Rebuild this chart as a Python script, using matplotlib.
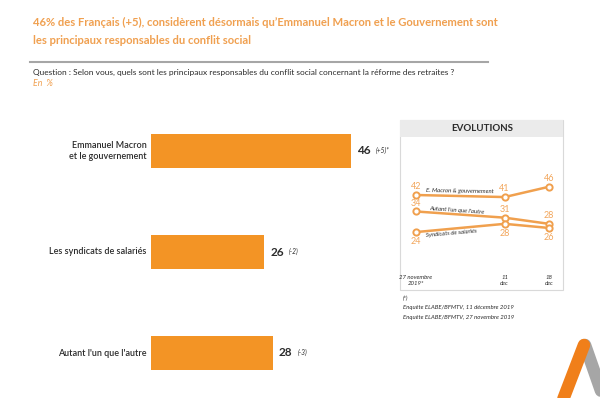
import matplotlib.pyplot as plt
import matplotlib.patches as patches

# Données
categories = ["Emmanuel Macron\net le gouvernement", "Les syndicats de salariés", "Autant l'un que l'autre"]
valeurs = [46, 26, 28]
evolutions = ["(+5)*", "(-2)", "(-3)"]

dates = ["27 novembre\n2019*", "11\ndec", "18\ndec"]
jours = [0, 14, 21]  # jours depuis le 27 novembre
macron = [42, 41, 46]
autant = [34, 31, 28]
syndicats = [24, 28, 26]

ORANGE = "#F39425"
ORANGE_L = "#F0A04E"
ORANGE_T = "#F2A65C"
DARK = "#2B2B2B"

plt.rcParams['font.family'] = ['Lato', 'DejaVu Sans']

W, H = 600, 398
fig = plt.figure(figsize=(6, 3.98), dpi=100)


def px_axes(x0, y0, x1, y1):
    """Axes placé en pixels (origine en haut à gauche)."""
    return fig.add_axes([x0 / W, 1 - y1 / H, (x1 - x0) / W, (y1 - y0) / H])


# Fond / textes
bg = px_axes(0, 0, W, H)
bg.set_xlim(0, W)
bg.set_ylim(H, 0)
bg.axis('off')

bg.text(33, 22, "46% des Français (+5), considèrent désormais qu’Emmanuel Macron et le Gouvernement sont",
        color="#F0A050", fontsize=8.1, fontweight='bold', va='center')
bg.text(33, 40, "les principaux responsables du conflit social",
        color="#F0A050", fontsize=8.1, fontweight='bold', va='center')
bg.plot([30, 488], [62, 62], color="#A6A6A6", lw=1.5)
bg.text(33, 72, "Question : Selon vous, quels sont les principaux responsables du conflit social concernant la réforme des retraites ?",
        color=DARK, fontsize=6.05, va='center')
bg.text(33, 84, "En  %", color="#F0A050", fontsize=6.3, style='italic', va='center')

# Panneau évolutions
bg.add_patch(patches.Rectangle((400, 120), 163, 170, facecolor='white', edgecolor="#D9D9D9", lw=0.8))
bg.add_patch(patches.Rectangle((400, 120), 163, 17, facecolor="#EBEBEB", edgecolor='none'))
bg.text(482, 128.5, "EVOLUTIONS", color=DARK, fontsize=7, fontweight='bold', ha='center', va='center')

bg.text(403, 298, "(*)", color=DARK, fontsize=4.3, style='italic', va='center')
bg.text(403, 307.5, "Enquête ELABE/BFMTV, 11 décembre 2019", color=DARK, fontsize=4.3, style='italic', va='center')
bg.text(403, 317, "Enquête ELABE/BFMTV, 27 novembre 2019", color=DARK, fontsize=4.3, style='italic', va='center')

# Logo
bg.plot([585, 606], [345, 405], color="#A6A6A6", lw=9, solid_capstyle='round')
bg.plot([561, 584], [405, 345], color="#F07F1A", lw=9, solid_capstyle='round')

# Barres
ax = px_axes(151, 110, 351, 390)
y = list(range(len(categories)))
ax.barh(y, valeurs, height=34 / 101, color=ORANGE)
ax.set_xlim(0, 46)
ax.set_ylim(2 + 37 / 101, -41 / 101)
ax.axis('off')
ax.patch.set_alpha(0)
for yi, cat, v, ev in zip(y, categories, valeurs, evolutions):
    ax.annotate(cat, (0, yi), xytext=(-3, 0), textcoords='offset points', ha='right', va='center',
                fontsize=6.5, color=DARK, fontweight='semibold', multialignment='right')
    ax.annotate(str(v), (v, yi), xytext=(4.5, 0), textcoords='offset points', ha='left', va='center',
                fontsize=8.5, fontweight='bold', color=DARK)
    ax.annotate(ev, (v, yi), xytext=(18, 0.5), textcoords='offset points', ha='left', va='center',
                fontsize=4.8, style='italic', color=DARK)

# Courbes
lx = px_axes(400, 137, 563, 290)
lx.patch.set_alpha(0)
lx.set_xlim(-16 / 6.33, 21 + 14 / 6.33)
lx.set_ylim(42 - 95 / 2.06, 42 + 58 / 2.06)
lx.axis('off')
for serie, pos in [(macron, 'up'), (autant, 'up'), (syndicats, 'down')]:
    lx.plot(jours, serie, color=ORANGE_L, lw=1.8, marker='o', markersize=4.5,
            markerfacecolor='white', markeredgecolor=ORANGE_L, markeredgewidth=1.4)
    for xj, v in zip(jours, serie):
        dy = 6 if pos == 'up' else -7
        lx.annotate(str(v), (xj, v), xytext=(0, dy), textcoords='offset points', ha='center', va='center',
                    fontsize=6.5, color=ORANGE_T)

lx.text(7, 43.8, "E. Macron & gouvernement", fontsize=4.3, style='italic', color=DARK,
        ha='center', va='center', rotation=-1)
lx.text(6.5, 34.3, "Autant l'un que l'autre", fontsize=4.3, style='italic', color=DARK,
        ha='center', va='center', rotation=-4)
lx.text(5.5, 23.6, "Syndicats de salariés", fontsize=4.3, style='italic', color=DARK,
        ha='center', va='center', rotation=5)

for xj, d in zip(jours, dates):
    lx.text(xj, 0.5, d, fontsize=4.3, style='italic', color=DARK, ha='center', va='center')

fig.savefig("out.png", dpi=100)
